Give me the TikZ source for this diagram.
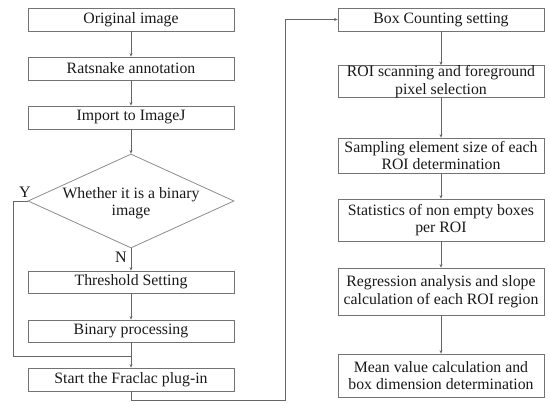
\documentclass[tikz,border=0pt]{standalone}
\usepackage{fontspec}
\setmainfont{Liberation Serif}
\newfontfamily\tnr{Liberation Serif}
\usetikzlibrary{arrows.meta,shapes.geometric}
\begin{document}
\begin{tikzpicture}[x=1pt,y=-1pt,
  stepbox/.style={draw=black!55,line width=0.8pt,minimum width=206pt,inner sep=0pt,
    align=center,font=\tnr\fontsize{15.8}{17.5}\selectfont,text=black!90},
  decbox/.style={draw=black!45,line width=0.8pt,diamond,minimum width=206pt,minimum height=94pt,inner sep=0pt},
  txt/.style={align=center,font=\tnr\fontsize{15.8}{17.5}\selectfont,text=black!90,inner sep=0pt},
  lab/.style={font=\tnr\fontsize{16}{18}\selectfont,text=black!90,inner sep=0pt},
  conn/.style={draw=black!60,line width=0.8pt},
  arr/.style={conn,-{Stealth[length=3.5pt,width=3pt]}}]
\useasboundingbox (0,0) rectangle (550,411);
% left column
\node[stepbox,minimum height=23pt] (o1) at (131,19.5) {Original image};
\node[stepbox,minimum height=23pt] (o2) at (131,68.5) {Ratsnake annotation};
\node[stepbox,minimum height=23pt] (o3) at (131,117.5) {Import to ImageJ};
\node[decbox] (dia) at (131,201) {};
\node[txt] (diat) at (131,203) {Whether it is a binary\\image};
\node[stepbox,minimum height=22pt] (t1) at (131,282) {Threshold Setting};
\node[stepbox,minimum height=22pt] (t2) at (131,331) {Binary processing};
\node[stepbox,minimum height=23pt] (t3) at (131,379.5) {Start the Fraclac plug-in};
% right column
\node[stepbox,minimum height=23pt] (r1) at (441,19.5) {Box Counting setting};
\node[stepbox,minimum height=31pt] (r2) at (441,81.5) {ROI scanning and foreground\\pixel selection};
\node[stepbox,minimum height=35pt] (r3) at (441,155.5) {Sampling element size of each\\ROI determination};
\node[stepbox,minimum height=42pt] (r4) at (441,220) {Statistics of non empty boxes\\per ROI};
\node[stepbox,minimum height=47pt] (r5) at (441,291.5) {Regression analysis and slope\\calculation of each ROI region};
\node[stepbox,minimum height=43pt] (r6) at (441,375.5) {Mean value calculation and\\box dimension determination};
% labels
\node[lab] (ylab) at (25,192) {Y};
\node[lab] (nlab) at (121,257) {N};
% coordinates
\coordinate (ycorner) at (13,201);
\coordinate (join) at (131,356);
\coordinate (c1) at (285,400);
% connectors
\draw[arr] (o1) -- (o2);
\draw[arr] (o2) -- (o3);
\draw[arr] (o3) -- (dia.north);
\draw[arr] (dia.south) -- (t1);
\draw[arr] (t1) -- (t2);
\draw[arr] (t2) -- (t3);
\draw[conn] (dia.west) -- (ycorner) |- (join);
\draw[arr] (t3.south) |- (c1) |- (r1.west);
\draw[arr] (r1) -- (r2);
\draw[arr] (r2) -- (r3);
\draw[arr] (r3) -- (r4);
\draw[arr] (r4) -- (r5);
\draw[arr] (r5) -- (r6);
\end{tikzpicture}
\end{document}
